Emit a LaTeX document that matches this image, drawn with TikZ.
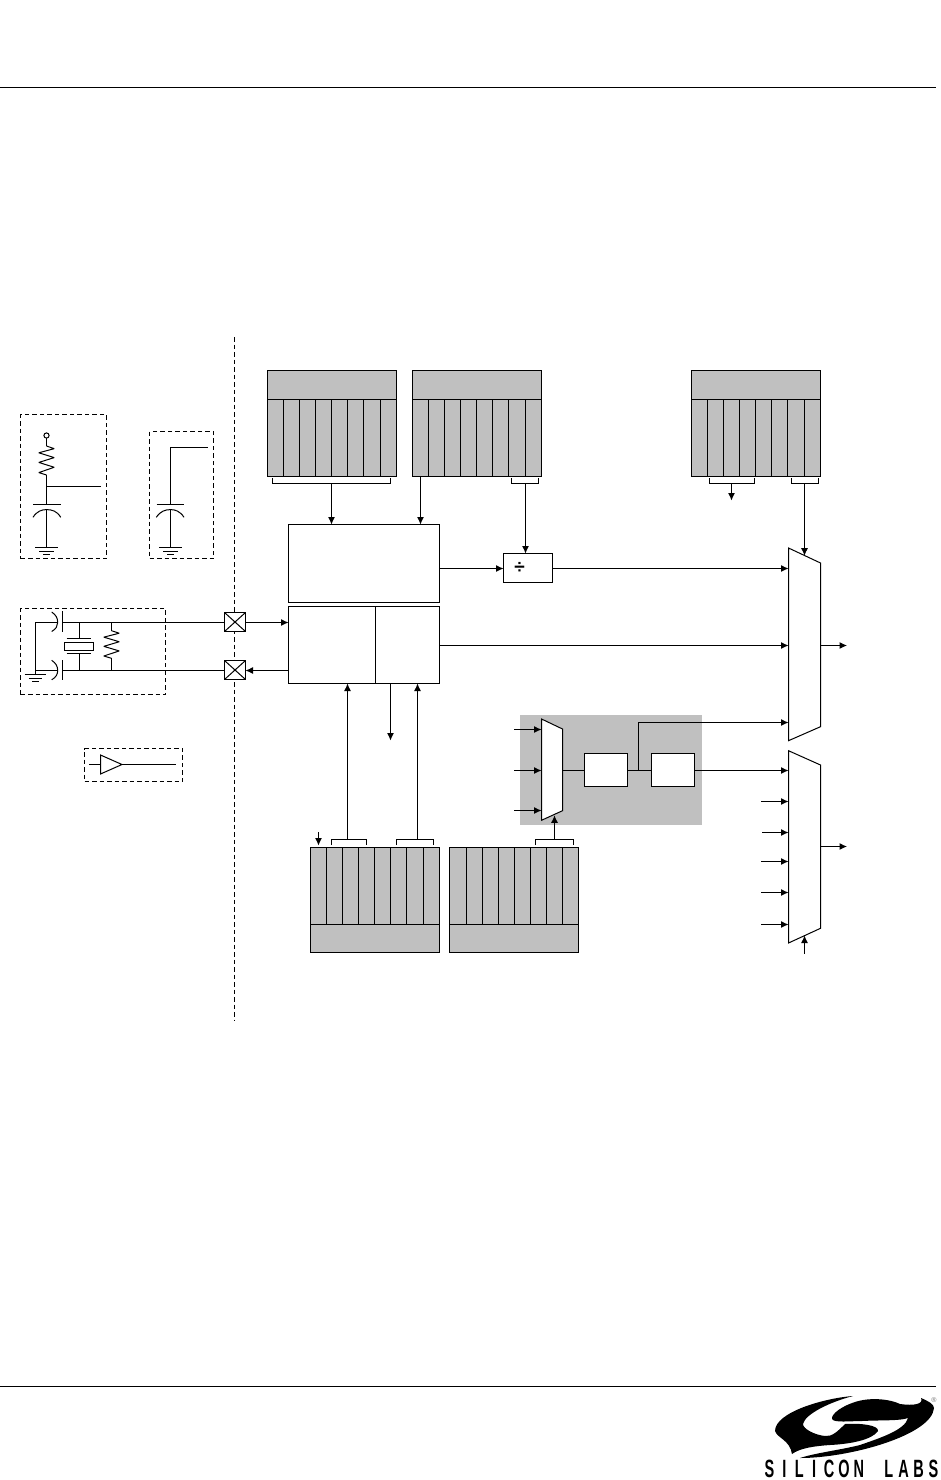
\documentclass[tikz,border=0pt]{standalone}
\usepackage{fontspec}
\setmainfont{Liberation Sans}
\usetikzlibrary{arrows.meta,calc}
\newcommand\lgl[1]{\makebox[14.9pt]{\scalebox{.58}[1]{#1}}}
\tikzset{
  wire/.style={line width=1pt},
  arr/.style={wire,-{Latex[length=7.5pt,width=7pt]}},
  bx/.style={draw,line width=1pt,fill=white,inner sep=0pt,outer sep=0pt},
  reg/.style={bx,fill=regfill},
  dashline/.style={line width=0.95pt,dash pattern=on 4.5pt off 3pt},
  pagerule/.style={line width=1pt},
}
\definecolor{regfill}{HTML}{C0C0C0}
% name, x1, y1, x2, y2, style
\newcommand\rectnode[6]{%
  \pgfmathsetmacro\rw{#4-#2}\pgfmathsetmacro\rh{#5-#3}%
  \node[#6,minimum width=\rw pt,minimum height=\rh pt] (#1) at ({(#2+#4)/2},{(#3+#5)/2}) {};}
% top register: name, x-left
\newcommand\topreg[2]{%
  \rectnode{#1}{#2}{370.5}{#2+129}{476.5}{reg}
  \draw[wire] (#1.west |- 0,399.5) -- (#1.east |- 0,399.5);
  \foreach \d in {16,32,48,64,80,96,113}
    \draw[wire] ($(#1.south west)+(\d,0)$) -- ($(#1.west |- 0,399.5)+(\d,0)$);}
\newcommand\botreg[3]{%
  \rectnode{#1}{#2}{847.5}{#2+129}{952.5}{reg}
  \draw[wire] (#1.west |- 0,924.5) -- (#1.east |- 0,924.5);
  \foreach \d in #3
    \draw[wire] ($(#1.north west)+(\d,0)$) -- ($(#1.west |- 0,924.5)+(\d,0)$);}
\newcommand\gnd[3]{% x, y, half width
  \draw[wire] (#1-#3,#2) -- (#1+#3,#2)
    (#1-#3*0.62,#2+4) -- (#1+#3*0.62,#2+4)
    (#1-#3*0.3,#2+7) -- (#1+#3*0.3,#2+7);}
\newcommand\vres[3]{% x, ytop, ybottom
  \pgfmathsetmacro\st{(#3-#2)/6}
  \draw[wire,line join=bevel] (#1,#2) -- (#1+7.7,#2+\st*0.55) -- (#1-7.7,#2+\st*1.4)
    -- (#1+7.7,#2+\st*2.4) -- (#1-7.7,#2+\st*3.4) -- (#1+7.7,#2+\st*4.4)
    -- (#1-7.7,#2+\st*5.5) -- (#1,#3);}
\begin{document}
\begin{tikzpicture}[x=1pt,y=-1pt]
\useasboundingbox (0,0) rectangle (941,1480);
\fill[white] (0,0) rectangle (941,1480);
% page rules
\coordinate (tl) at (0,87.5); \coordinate (tr) at (936,87.5);
\coordinate (bl) at (0,1386.5); \coordinate (br) at (936,1386.5);
\draw[pagerule] (tl) -- (tr);
\draw[pagerule] (bl) -- (br);
% system boundary
\coordinate (bt) at (234.5,337); \coordinate (bb) at (234.5,1020);
\draw[dashline] (bt) -- (bb);
% grey block
\rectnode{gbox}{520}{715}{702}{825}{fill=regfill,inner sep=0pt,outer sep=0pt}
% registers
\topreg{ra}{267.5}
\topreg{rb}{412.5}
\topreg{rc}{691.5}
\botreg{rd}{310.5}{{16,32,48,64,80,96,113}}
\botreg{re}{449.5}{{17,33,49,65,81,97,113}}
% main boxes
\rectnode{pll}{288.5}{524.5}{439.5}{602.5}{bx}
\rectnode{osc}{288.5}{606.5}{375.5}{683.5}{bx}
\rectnode{drv}{375.5}{606.5}{439.5}{683.5}{bx}
\rectnode{divb}{503.5}{553.5}{552.5}{582.5}{bx}
\node[inner sep=0pt,font=\fontsize{19}{19}\selectfont\bfseries] (divs) at (519.5,567.5) {÷};
\rectnode{ba}{584.5}{753.5}{627.5}{786.5}{bx}
\rectnode{bc}{651.5}{753.5}{694.5}{786.5}{bx}
\rectnode{xa}{224.5}{612.5}{245.5}{631.5}{bx}
\rectnode{xb}{224.5}{660.5}{245.5}{679.5}{bx}
\draw[wire] (xa.north west) -- (xa.south east) (xa.north east) -- (xa.south west);
\draw[wire] (xb.north west) -- (xb.south east) (xb.north east) -- (xb.south west);
% muxes
\draw[bx] (788.5,548) coordinate (ma1) -- (820.5,563) -- (820.5,726.7) -- (788.5,740.7) coordinate (ma2) -- cycle;
\draw[bx] (788.5,750.7) coordinate (mb1) -- (820.5,765) -- (820.5,928.3) -- (788.5,943) coordinate (mb2) -- cycle;
\draw[bx] (541.5,719) coordinate (mc1) -- (562.5,729) -- (562.5,810.7) -- (541.5,820.3) coordinate (mc2) -- cycle;
% brackets
\draw[wire] (272.5,478) -- (272.5,483.5) -- (390.5,483.5) -- (390.5,478);
\draw[wire] (511.5,478) -- (511.5,483.5) -- (538.5,483.5) -- (538.5,478);
\draw[wire] (709.5,478) -- (709.5,483.5) -- (754.5,483.5) -- (754.5,478);
\draw[wire] (791.5,478) -- (791.5,483.5) -- (818.5,483.5) -- (818.5,478);
\draw[wire] (331.5,845) -- (331.5,839.5) -- (366.5,839.5) -- (366.5,845);
\draw[wire] (396.5,845) -- (396.5,839.5) -- (433.5,839.5) -- (433.5,845);
\draw[wire] (535.5,845) -- (535.5,839.5) -- (573.5,839.5) -- (573.5,845);
% connectors from registers
\coordinate (ca) at (331.5,483.5);
\coordinate (cb) at (420.5,476.5);
\coordinate (cc) at (525.5,483.5);
\coordinate (cd) at (731.5,483.5);
\coordinate (cde) at (731.5,500.5);
\coordinate (ce) at (804.5,483.5);
\coordinate (cee) at (804.5,555.7);
\draw[arr] (ca) -- (ca |- pll.north);
\draw[arr] (cb) -- (cb |- pll.north);
\draw[arr] (cc) -- (cc |- divb.north);
\draw[arr] (cd) -- (cde);
\draw[arr] (ce) -- (cee);
% horizontal signal paths
\coordinate (mi1) at (788.5,568.5);
\draw[arr] (pll.east |- mi1) -- (divb.west |- mi1);
\draw[arr] (divb.east |- mi1) -- (mi1);
\coordinate (mi2) at (788.5,645.5);
\draw[arr] (drv.east |- mi2) -- (mi2);
\coordinate (mo1) at (847,645.5);
\draw[arr] (820.5,645.5) -- (mo1);
\coordinate (mo2) at (847,846.5);
\draw[arr] (820.5,846.5) -- (mo2);
% pins
\coordinate (ya) at (234.5,622.5);
\coordinate (yb) at (234.5,670.5);
\draw[arr] (xa.east |- ya) -- (osc.west |- ya);
\draw[arr] (osc.west |- yb) -- (xb.east |- yb);
% bottom connectors
\coordinate (cf) at (347.5,839.5);
\coordinate (cg) at (417.5,839.5);
\coordinate (ch) at (390.5,740.5);
\coordinate (ci) at (554.5,839.5);
\coordinate (cie) at (554.5,815.3);
\coordinate (cj1) at (318.5,832);
\coordinate (cj2) at (318.5,845.5);
\draw[arr] (cf) -- (cf |- osc.south);
\draw[arr] (cg) -- (cg |- drv.south);
\draw[arr] (ch |- drv.south) -- (ch);
\draw[arr] (ci) -- (cie);
\draw[arr] (cj1) -- (cj2);
% grey block wiring
\foreach \yy in {729.5,770.5,810.5}
  \draw[arr] (514,\yy) -- (541.5,\yy);
\coordinate (mi4) at (788.5,770.5);
\draw[wire] (562.5,770.5) -- (ba.west |- mi4);
\draw[wire] (ba.east |- mi4) -- (bc.west |- mi4);
\coordinate (tap) at (638.5,770.5);
\coordinate (mi3) at (788.5,722.5);
\draw[arr] (tap) -- (tap |- mi3) -- (mi3);
\draw[arr] (bc.east |- mi4) -- (mi4);
% second mux inputs
\foreach \xs/\yy in {761/801.5,762/832.5,761/861.5,761/892.5,761/924.5}
  \draw[arr] (\xs,\yy) -- (788.5,\yy);
\coordinate (mb3) at (804.5,953.7);
\coordinate (mb4) at (804.5,935.5);
\draw[arr] (mb3) -- (mb4);
% --- external components ---
\rectnode{da}{20.5}{414.5}{106.5}{558.5}{draw,dashline,inner sep=0pt,outer sep=0pt}
\rectnode{db}{149.5}{431.5}{213.5}{558.5}{draw,dashline,inner sep=0pt,outer sep=0pt}
\rectnode{dc}{20.5}{608.5}{165.5}{694.5}{draw,dashline,inner sep=0pt,outer sep=0pt}
\rectnode{dd}{84.5}{748.5}{182.5}{781.5}{draw,dashline,inner sep=0pt,outer sep=0pt}
% RC
\draw[wire] (46.5,435.5) circle (2.6);
\draw[wire] (46.5,438) -- (46.5,446);
\vres{46.5}{446}{475}
\draw[wire] (46.5,475) -- (46.5,504.5) (46.5,486.5) -- (100.5,486.5);
\draw[wire] (33,504.5) -- (60.5,504.5);
\draw[wire] (33,517.3) .. controls (37,511) and (42,509.6) .. (46.5,509.6) .. controls (52,509.6) and (57,511) .. (60.7,517.3);
\draw[wire] (46.5,509.6) -- (46.5,547.5);
\gnd{46.5}{547.5}{11.5}
% C
\draw[wire] (207.5,447.5) -- (170.5,447.5) -- (170.5,504.5);
\draw[wire] (156.5,504.5) -- (184,504.5);
\draw[wire] (156.3,517.3) .. controls (160.5,511) and (165.5,509.6) .. (170.5,509.6) .. controls (175,509.6) and (180,511) .. (184,517.3);
\draw[wire] (170.5,509.6) -- (170.5,547.5);
\gnd{170.5}{547.5}{11.5}
% crystal
\draw[wire] (62.5,622.5) -- (xa.west |- ya) (62.5,670.5) -- (xb.west |- yb);
\draw[wire] (62.5,611.3) -- (62.5,631.7) (62.5,660) -- (62.5,680);
\draw[wire] (51.7,612) .. controls (56,615) and (57.7,618) .. (57.7,622.5) .. controls (57.7,626) and (56,629) .. (51.7,631.5);
\draw[wire] (51.7,660.3) .. controls (56,663.3) and (57.7,666.3) .. (57.7,670.5) .. controls (57.7,674.3) and (56,677.3) .. (51.7,679.8);
\draw[wire] (57.7,622.5) -- (35.5,622.5) -- (35.5,674.5) (35.5,670.5) -- (57.7,670.5);
\gnd{35.5}{674.5}{10.8}
\draw[wire] (79.5,622.5) -- (79.5,638.5) (66.7,638.5) -- (90.7,638.5);
\rectnode{xtal}{64.5}{642.5}{93.5}{650.5}{bx}
\draw[wire] (66.7,653.5) -- (90.7,653.5) (79.5,653.5) -- (79.5,670.5);
\draw[wire] (111.5,622.5) -- (111.5,630.7);
\vres{111.5}{630.7}{658.3}
\draw[wire] (111.5,658.3) -- (111.5,670.5);
% buffer
\draw[bx] (100.5,755) coordinate (ta) -- (122,764.5) coordinate (tb) -- (100.5,774) -- cycle;
\draw[wire] (89,764.5) -- (100.5,764.5);
\draw[wire] (tb) -- (176,764.5);
% --- logo: left crescent with lower tail ---
\fill[black] (853,1396) .. controls (825,1398) and (775,1412) .. (775,1431)
  .. controls (777,1438) and (790,1440) .. (792,1454)
  .. controls (800,1448) and (815,1446) .. (830,1445)
  .. controls (850,1444) and (872,1440) .. (878,1431)
  .. controls (879,1425) and (860,1423) .. (845,1424)
  .. controls (838,1431) and (832,1437) .. (825,1436)
  .. controls (815,1435) and (803,1429) .. (803,1424)
  .. controls (805,1414) and (830,1402) .. (853,1396) -- cycle;
% --- logo: right crescent with upper band ---
\fill[black] (800,1458) .. controls (850,1458) and (932,1435) .. (934,1408)
  .. controls (934,1404) and (928,1401) .. (921,1398)
  .. controls (924,1404) and (914,1406) .. (900,1404)
  .. controls (890,1399) and (870,1397) .. (855,1402)
  .. controls (842,1406) and (831,1414) .. (832,1419)
  .. controls (834,1423) and (850,1421) .. (862,1421)
  .. controls (880,1420) and (900,1421) .. (908,1418)
  .. controls (905,1430) and (880,1438) .. (860,1445)
  .. controls (840,1450) and (815,1453) .. (800,1458) -- cycle;
\node[inner sep=0pt,font=\fontsize{25}{25}\selectfont\bfseries] (logotext) at (851.5,1469) {\lgl{S}\lgl{I}\lgl{L}\lgl{I}\lgl{C}\lgl{O}\lgl{N}\lgl{ }\lgl{L}\lgl{A}\lgl{B}\lgl{S}};
\node[inner sep=0pt,text=black!55,font=\fontsize{7}{7}\selectfont] (logor) at (934,1400.5) {®};
\end{tikzpicture}
\end{document}
